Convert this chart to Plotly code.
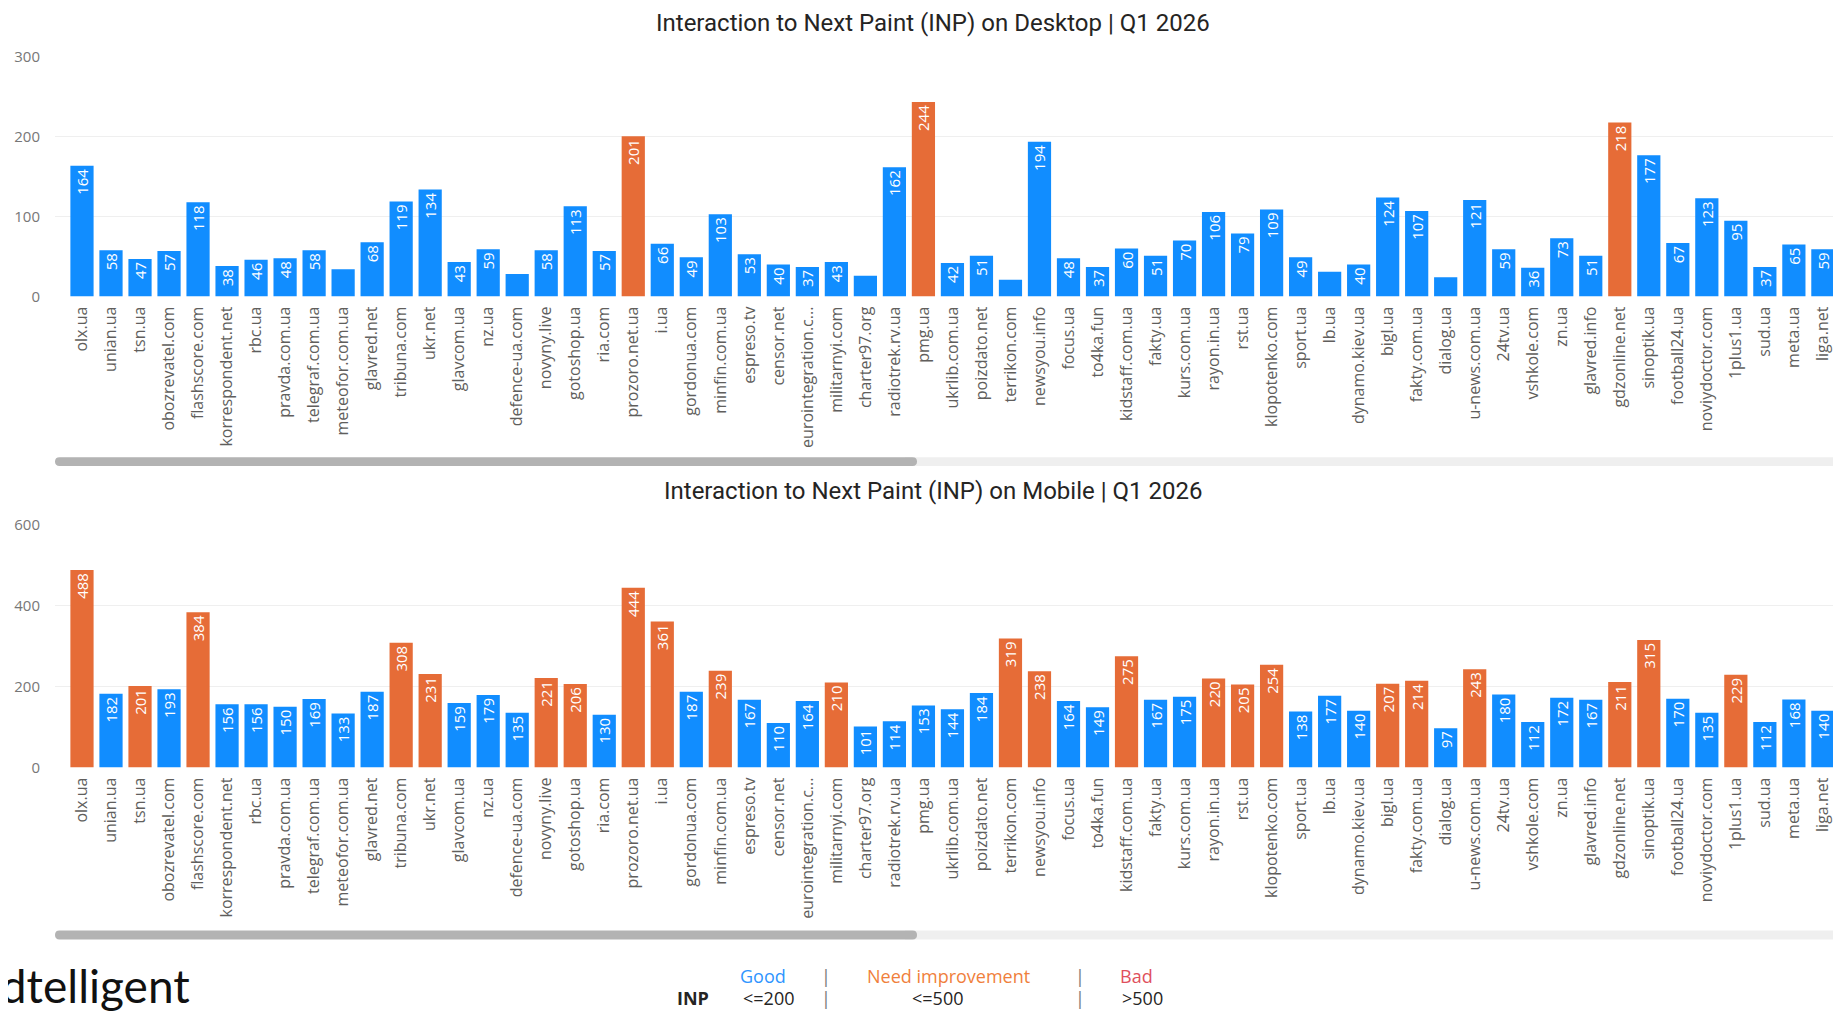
import plotly.graph_objects as go

W, H = 1841, 1011
OFF = 8  # page body margin offset compensation

sites = ["olx.ua", "unian.ua", "tsn.ua", "obozrevatel.com", "flashscore.com", "korrespondent.net",
         "rbc.ua", "pravda.com.ua", "telegraf.com.ua", "meteofor.com.ua", "glavred.net", "tribuna.com",
         "ukr.net", "glavcom.ua", "nz.ua", "defence-ua.com", "novyny.live", "gotoshop.ua", "ria.com",
         "prozoro.net.ua", "i.ua", "gordonua.com", "minfin.com.ua", "espreso.tv", "censor.net",
         "eurointegration.c...", "militarnyi.com", "charter97.org", "radiotrek.rv.ua", "pmg.ua",
         "ukrlib.com.ua", "poizdato.net", "terrikon.com", "newsyou.info", "focus.ua", "to4ka.fun",
         "kidstaff.com.ua", "fakty.ua", "kurs.com.ua", "rayon.in.ua", "rst.ua", "klopotenko.com",
         "sport.ua", "lb.ua", "dynamo.kiev.ua", "bigl.ua", "fakty.com.ua", "dialog.ua", "u-news.com.ua",
         "24tv.ua", "vshkole.com", "zn.ua", "glavred.info", "gdzonline.net", "sinoptik.ua",
         "football24.ua", "noviydoctor.com", "1plus1.ua", "sud.ua", "meta.ua", "liga.net"]

desktop_inp = [164, 58, 47, 57, 118, 38, 46, 48, 58, 34, 68, 119, 134, 43, 59, 28, 58, 113, 57,
               201, 66, 49, 103, 53, 40, 37, 43, 26, 162, 244, 42, 51, 21, 194, 48, 37, 60, 51, 70,
               106, 79, 109, 49, 31, 40, 124, 107, 24, 121, 59, 36, 73, 51, 218, 177, 67, 123, 95,
               37, 65, 59]

mobile_inp = [488, 182, 201, 193, 384, 156, 156, 150, 169, 133, 187, 308, 231, 159, 179, 135, 221,
              206, 130, 444, 361, 187, 239, 167, 110, 164, 210, 101, 114, 153, 144, 184, 319, 238,
              164, 149, 275, 167, 175, 220, 205, 254, 138, 177, 140, 207, 214, 97, 243, 180, 112,
              172, 167, 211, 315, 170, 135, 229, 112, 168, 140]

desktop_ticks = [0, 100, 200, 300]
mobile_ticks = [0, 200, 400, 600]

GOOD_LIMIT = 200
LABEL_MIN = 35
BLUE = "#118DFF"
ORANGE = "#E66C37"
FONT = "Open Sans, Segoe UI, sans-serif"


def colors(vals):
    return [ORANGE if v > GOOD_LIMIT else BLUE for v in vals]


def labels(vals):
    return [str(v) if v >= LABEL_MIN else "" for v in vals]


def py(px):
    return 1 - (px - OFF) / H


def pxx(px):
    return (px - OFF) / W


fig = go.Figure()
for vals, xa, ya in [(desktop_inp, "x", "y"), (mobile_inp, "x2", "y2")]:
    fig.add_trace(go.Bar(
        x=sites, y=vals, xaxis=xa, yaxis=ya,
        marker=dict(color=colors(vals), line=dict(width=0)),
        text=labels(vals), textposition="inside", insidetextanchor="end",
        textangle=-90, constraintext="none",
        textfont=dict(color="white", size=15, family=FONT),
        hoverinfo="x+y", showlegend=False,
    ))

x_dom = [pxx(55), 1.0]
x_range = [-0.93, 60.9]
common_x = dict(domain=x_dom, range=x_range, tickangle=-90, showgrid=False, zeroline=False,
                showline=False, ticks="", ticklabelstandoff=6,
                tickfont=dict(size=16, color="#605E5C", family=FONT))
common_y = dict(showgrid=True, gridcolor="#EFEFEF", gridwidth=1, zeroline=False, showline=False,
                ticks="", ticklabelstandoff=14, tickfont=dict(size=15, color="#777777", family=FONT))

fig.update_layout(
    width=W, height=H, margin=dict(l=0, r=0, t=0, b=0),
    paper_bgcolor="white", plot_bgcolor="white", bargap=0.2,
    xaxis=dict(anchor="y", **common_x),
    yaxis=dict(anchor="x", domain=[py(291), py(47)], range=[0, 300], tickvals=desktop_ticks, **common_y),
    xaxis2=dict(anchor="y2", **common_x),
    yaxis2=dict(anchor="x2", domain=[py(771.5), py(524)], range=[0, 600], tickvals=mobile_ticks, **common_y),
)

TITLE_FONT = dict(family="Roboto, DejaVu Sans, sans-serif", size=24, color="#252423")
ann = []
ann.append(dict(text="Interaction to Next Paint (INP) on Desktop | Q1 2026", x=pxx(933), y=py(12)))
ann.append(dict(text="Interaction to Next Paint (INP) on Mobile | Q1 2026", x=pxx(933), y=py(490)))
for a in ann:
    a.update(xref="paper", yref="paper", xanchor="center", yanchor="middle", showarrow=False, font=TITLE_FONT)


def pill(x0, x1, y0, y1, color):
    X0, X1 = pxx(x0), pxx(x1)
    Y0, Y1 = py(y1), py(y0)
    r = (y1 - y0) / 2
    rx = r / W
    Ym = (Y0 + Y1) / 2
    path = (f"M {X0+rx},{Y0} L {X1-rx},{Y0} Q {X1},{Y0} {X1},{Ym} Q {X1},{Y1} {X1-rx},{Y1} "
            f"L {X0+rx},{Y1} Q {X0},{Y1} {X0},{Ym} Q {X0},{Y0} {X0+rx},{Y0} Z")
    return dict(type="path", path=path, xref="paper", yref="paper", fillcolor=color, line=dict(width=0), layer="above")


shapes = []
for (t0, t1) in [(455, 464), (938, 947)]:
    shapes.append(dict(type="rect", xref="paper", yref="paper", x0=pxx(905), x1=1.0, y0=py(t1), y1=py(t0),
                       fillcolor="#EFEFEF", line=dict(width=0), layer="above"))
    shapes.append(pill(55, 917, t0, t1, "#B3B3B3"))

# legend block
LEG = "Open Sans, Segoe UI, sans-serif"
row1, row2 = py(984), py(1007)
leg_items = [
    ("Good", 763, row1, "#2E95FF"),
    ("|", 826, row1, "#777777"),
    ("Need improvement", 948, row1, "#F07F3C"),
    ("|", 1080, row1, "#777777"),
    ("Bad", 1136, row1, "#E0505C"),
    ("<b>INP</b>", 693, row2, "#252423"),
    ("<=200", 768, row2, "#252423"),
    ("|", 826, row2, "#777777"),
    ("<=500", 937, row2, "#252423"),
    ("|", 1080, row2, "#777777"),
    (">500", 1142, row2, "#252423"),
]
for txt, x, y, c in leg_items:
    ann.append(dict(text=txt, x=pxx(x), y=y, xref="paper", yref="paper", xanchor="center", yanchor="middle",
                    showarrow=False, font=dict(family=LEG, size=18, color=c)))

ann.append(dict(text="adtelligent", x=pxx(192), y=py(994), xref="paper", yref="paper", xanchor="right",
                yanchor="middle", showarrow=False, font=dict(family="Lato, sans-serif", size=46, color="#111111")))

fig.update_layout(annotations=ann, shapes=shapes)
fig.write_html("out.html")
